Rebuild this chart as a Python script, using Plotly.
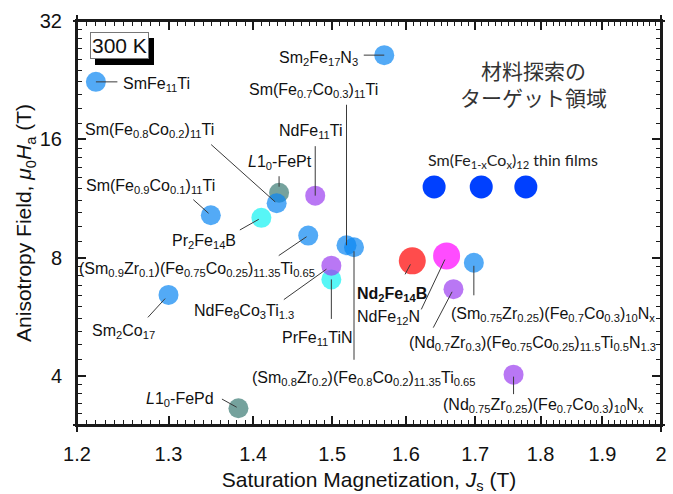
import numpy as np
import plotly.graph_objects as go

# ---------------- data ----------------
materials = [
    "SmFe11Ti", "Sm2Fe17N3", "L10-FePt", "Sm(Fe0.8Co0.2)11Ti", "NdFe11Ti",
    "Sm(Fe0.9Co0.1)11Ti", "Pr2Fe14B", "(Sm0.9Zr0.1)(Fe0.75Co0.25)11.35Ti0.65",
    "Sm(Fe0.7Co0.3)11Ti", "(Sm0.8Zr0.2)(Fe0.8Co0.2)11.35Ti0.65", "PrFe11TiN",
    "NdFe8Co3Ti1.3", "Sm2Co17", "L10-FePd", "Nd2Fe14B", "NdFe12N",
    "(Sm0.75Zr0.25)(Fe0.7Co0.3)10Nx", "(Nd0.7Zr0.3)(Fe0.75Co0.25)11.5Ti0.5N1.3",
    "(Nd0.75Zr0.25)(Fe0.7Co0.3)10Nx",
]
js = [1.22, 1.57, 1.432, 1.429, 1.478, 1.349, 1.410, 1.469, 1.519, 1.529,
      1.499, 1.499, 1.300, 1.382, 1.609, 1.658, 1.698, 1.668, 1.758]
ha = [22.4, 26.2, 11.7, 11.0, 11.5, 10.25, 10.1, 9.1, 8.6, 8.5,
      7.04, 7.63, 6.43, 3.31, 7.85, 8.08, 7.76, 6.65, 4.03]
kind = ["Sm", "Sm", "L10", "Sm", "Nd", "Sm", "Pr", "Sm", "Sm", "Sm",
        "Pr", "Nd", "Sm", "L10", "NdFeB", "NdFe12N", "Sm", "Nd", "Nd"]

film_js = [1.640, 1.709, 1.777]
film_ha = [12.1, 12.1, 12.1]

labels = [
    "SmFe<sub>11</sub>Ti",
    "Sm<sub>2</sub>Fe<sub>17</sub>N<sub>3</sub>",
    "<i>L</i>1<sub>0</sub>-FePt",
    "Sm(Fe<sub>0.8</sub>Co<sub>0.2</sub>)<sub>11</sub>Ti",
    "NdFe<sub>11</sub>Ti",
    "Sm(Fe<sub>0.9</sub>Co<sub>0.1</sub>)<sub>11</sub>Ti",
    "Pr<sub>2</sub>Fe<sub>14</sub>B",
    "(Sm<sub>0.9</sub>Zr<sub>0.1</sub>)(Fe<sub>0.75</sub>Co<sub>0.25</sub>)<sub>11.35</sub>Ti<sub>0.65</sub>",
    "Sm(Fe<sub>0.7</sub>Co<sub>0.3</sub>)<sub>11</sub>Ti",
    "(Sm<sub>0.8</sub>Zr<sub>0.2</sub>)(Fe<sub>0.8</sub>Co<sub>0.2</sub>)<sub>11.35</sub>Ti<sub>0.65</sub>",
    "PrFe<sub>11</sub>TiN",
    "NdFe<sub>8</sub>Co<sub>3</sub>Ti<sub>1.3</sub>",
    "Sm<sub>2</sub>Co<sub>17</sub>",
    "<i>L</i>1<sub>0</sub>-FePd",
    "<b>Nd<sub>2</sub>Fe<sub>14</sub>B</b>",
    "NdFe<sub>12</sub>N",
    "(Sm<sub>0.75</sub>Zr<sub>0.25</sub>)(Fe<sub>0.7</sub>Co<sub>0.3</sub>)<sub>10</sub>N<sub>x</sub>",
    "(Nd<sub>0.7</sub>Zr<sub>0.3</sub>)(Fe<sub>0.75</sub>Co<sub>0.25</sub>)<sub>11.5</sub>Ti<sub>0.5</sub>N<sub>1.3</sub>",
    "(Nd<sub>0.75</sub>Zr<sub>0.25</sub>)(Fe<sub>0.7</sub>Co<sub>0.3</sub>)<sub>10</sub>N<sub>x</sub>",
]

x_ticks = [1.2, 1.3, 1.4, 1.5, 1.6, 1.7, 1.8, 1.9, 2.0]
x_ticktext = ["1.2", "1.3", "1.4", "1.5", "1.6", "1.7", "1.8", "1.9", "2"]
y_ticks = [4, 8, 16, 32]
y_ticktext = ["4", "8", "16", "32"]

# ---------------- styles ----------------
kind_color = {"Sm": "#0A86F2", "L10": "#3B7B74", "Nd": "#9B3DF0", "Pr": "#0FF2F2",
              "NdFeB": "#FF0000", "NdFe12N": "#FF00FF"}
kind_size = {"NdFeB": 27, "NdFe12N": 27}
colors = [kind_color[k] for k in kind]
sizes = [kind_size.get(k, 20) for k in kind]

# label placement (screen px): text anchor offset, xanchor, leader tail offset, standoff
label_layout = [
    (25, 0, "left", 23, 0, 0),
    (-24, 0, "right", -22, 0, 0),
    (1, -33, "center", 0, -18, 6),
    (-127, -76, "center", -67, -60, 2),
    (-5, -67, "center", 0, -51, 0),
    (-60, -32, "center", -19, -17, 3),
    (-57, 21, "center", -23, 13, 3),
    (-111, 31, "center", -31, 21, 2),
    (-33, -158, "center", 0, -142, 0),
    (9, 128, "center", 0, 114, 4),
    (-14, 56, "center", 0, 41, 0),
    (-87, 43, "center", -49, 35, 6),
    (-45, 34, "center", -22, 24, 5),
    (-58, -12, "center", -18, -10, 2),
    (-20, 31, "center", -8, 15, 4),
    (-58, 59, "center", -26, 55, 4),
    (79, 49, "center", 0, 34, 3),
    (79, 51, "center", -21, 40, 3),
    (30, 28, "center", 0, 21, 2),
]
TEXT_DROP = 3

FONT = "Arial, Liberation Sans, sans-serif"
INK = "#1a1a1a"
W, H = 673, 494
ML, MR, MT, MB = 77, 6, 21, 58
PW, PH = W - ML - MR, H - MT - MB          # plot area in px
MAJ_LEN, MIN_LEN = 9, 5                     # tick lengths in px

xr = [float(np.log10(1.2)), float(np.log10(2.0))]
yr = [float(np.log10(3.0)), float(np.log10(32))]

x_minor = [round(v, 2) for v in np.arange(1.21, 2.0, 0.01) if round(v, 2) not in x_ticks]
y_minor = []
for a in [2, 4, 8, 16]:
    for k in range(1, 10):
        v = a + k * a / 10
        if 3.0 < v < 32:
            y_minor.append(v)

fig = go.Figure()
fig.add_trace(go.Scatter(
    x=js, y=ha, mode="markers",
    marker=dict(color=colors, size=sizes, line=dict(width=0)),
    text=materials, hoverinfo="text", showlegend=False,
))
fig.add_trace(go.Scatter(
    x=film_js, y=film_ha, mode="markers",
    marker=dict(color="#0040FF", size=23, line=dict(width=0)),
    hoverinfo="skip", showlegend=False,
))

annotations = []


def bar(x, y, w, h, xanchor, yanchor, color=INK):
    """A small solid box (frame edge or tick) drawn as a filled annotation in paper coords."""
    return dict(x=x, y=y, xref="paper", yref="paper", text="\u00a0", showarrow=False,
                xanchor=xanchor, yanchor=yanchor, width=w, height=h,
                bgcolor=color, borderpad=0, borderwidth=0, font=dict(size=1, color=color))


def frac(v, r):
    return float((np.log10(v) - r[0]) / (r[1] - r[0]))


# ---- inside ticks on all four sides ----
for vals, ln, wd in [(x_minor, MIN_LEN, 1), (x_ticks, MAJ_LEN, 2)]:
    for v in vals:
        f = frac(v, xr)
        annotations.append(bar(f, 0, wd, ln, "center", "bottom"))
        annotations.append(bar(f, 1, wd, ln, "center", "top"))
for vals, ln, wd in [(y_minor, MIN_LEN, 1), (y_ticks, MAJ_LEN, 2)]:
    for v in vals:
        f = frac(v, yr)
        annotations.append(bar(0, f, ln, wd, "left", "middle"))
        annotations.append(bar(1, f, ln, wd, "right", "middle"))
# ---- frame edges ----
annotations.append(bar(0.5, 0, PW + 2, 2, "center", "middle"))
annotations.append(bar(0.5, 1, PW + 2, 2, "center", "middle"))
annotations.append(bar(0, 0.5, 2, PH + 2, "center", "middle"))
annotations.append(bar(1, 0.5, 2, PH + 2, "center", "middle"))

# ---- leader lines and labels ----
for i, (dx, dy, xa, ax, ay, so) in enumerate(label_layout):
    lx, ly = float(np.log10(js[i])), float(np.log10(ha[i]))
    annotations.append(dict(
        x=lx, y=ly, xref="x", yref="y", text="", showarrow=True, arrowhead=0,
        arrowwidth=1, arrowcolor="#3a3a3a", ax=ax, ay=ay, standoff=so,
        font=dict(size=1),
    ))
    annotations.append(dict(
        x=lx, y=ly, xref="x", yref="y", text=labels[i], showarrow=False,
        xanchor=xa, yanchor="middle", xshift=dx, yshift=-(dy + TEXT_DROP),
        font=dict(family=FONT, size=16, color="#111111"),
    ))

annotations.append(dict(
    x=float(np.log10(film_js[1])), y=float(np.log10(film_ha[1])), xref="x", yref="y",
    text="Sm(Fe<sub>1-x</sub>Co<sub>x</sub>)<sub>12</sub> thin films", showarrow=False,
    xanchor="center", yanchor="middle", xshift=32, yshift=29 - TEXT_DROP,
    font=dict(family="Lato, Open Sans, sans-serif", size=16, color="#222222"),
))
annotations.append(dict(
    x=0.781, y=0.846, xref="paper", yref="paper",
    text="材料探索の<br>ターゲット領域", showarrow=False, align="center",
    xanchor="center", yanchor="middle",
    font=dict(family="Noto Sans CJK JP", size=21, color="#333333"),
))
for col, bg, bc, xs, ys in [("#000000", "#000000", "#000000", 5, -6),
                            ("#111111", "#ffffff", "#777777", 0, 0)]:
    annotations.append(dict(
        x=0.0729, y=0.940, xref="paper", yref="paper", text="300 K", showarrow=False,
        xanchor="center", yanchor="middle", xshift=xs, yshift=ys,
        font=dict(family=FONT, size=21, color=col), bgcolor=bg,
        bordercolor=bc, borderwidth=1, borderpad=1,
    ))

fig.update_layout(
    width=W, height=H, autosize=False,
    margin=dict(l=ML, r=MR, t=MT, b=MB),
    paper_bgcolor="white", plot_bgcolor="white",
    annotations=annotations,
    xaxis=dict(type="log", range=xr, tickmode="array", tickvals=x_ticks,
               ticktext=x_ticktext, ticks="outside", ticklen=10,
               tickcolor="rgba(0,0,0,0)", showline=True, linewidth=2, linecolor=INK,
               mirror=True, showgrid=False, zeroline=False,
               tickfont=dict(family=FONT, size=20, color="#111111"),
               title=dict(text="Saturation Magnetization, <i>J</i><sub>s</sub> (T)",
                          font=dict(family=FONT, size=21, color="#111111"), standoff=8)),
    yaxis=dict(type="log", range=yr, tickmode="array", tickvals=y_ticks,
               ticktext=y_ticktext, ticks="outside", ticklen=9,
               tickcolor="rgba(0,0,0,0)", showline=True, linewidth=2, linecolor=INK,
               mirror=True, showgrid=False, zeroline=False,
               tickfont=dict(family=FONT, size=20, color="#111111"),
               title=dict(text="Anisotropy Field, <i>μ</i><sub>0</sub><i>H</i><sub>a</sub> (T)",
                          font=dict(family=FONT, size=21, color="#111111"), standoff=2)),
)

fig.write_html("out.html", config={"displayModeBar": False},
               post_script="document.body.style.margin='0';")
